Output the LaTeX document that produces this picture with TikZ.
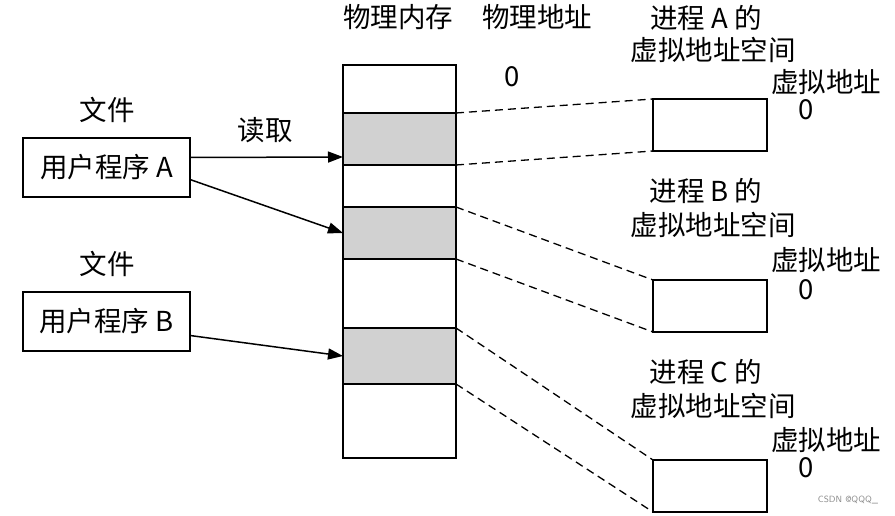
\documentclass[tikz,border=0pt]{standalone}
\usepackage{fontspec}
\newfontfamily\cjk{Noto Sans CJK SC}
\usetikzlibrary{arrows.meta,calc}
\tikzset{
  txt/.style={font=\cjk\fontsize{27.5}{31}\selectfont, inner sep=0pt},
  seg/.style={draw, line width=1.5pt, minimum width=113pt, inner sep=0pt, outer sep=0pt, anchor=north west},
  used/.style={seg, fill=black!18},
  vbox/.style={draw, line width=1.5pt, minimum width=114pt, minimum height=52pt, inner sep=0pt, outer sep=0pt, anchor=north west},
  pbox/.style={draw, line width=1.5pt, minimum width=167pt, minimum height=59pt, inner sep=0pt, outer sep=0pt, anchor=north west, font=\cjk\fontsize{27.5}{31}\selectfont},
  link/.style={dashed, dash pattern=on 8pt off 5pt, line width=1.3pt},
  readarrow/.style={line width=1.5pt, -{Triangle[length=15pt,width=11pt]}}
}
\begin{document}
\begin{tikzpicture}[x=1pt,y=-1pt]
\useasboundingbox (0,0) rectangle (895,516);
% memory column
\node[seg, minimum height=48pt] (m0) at (343,65) {};
\node[used, minimum height=52pt] (m1) at (343,113) {};
\node[seg, minimum height=42pt] (m2) at (343,165) {};
\node[used, minimum height=52pt] (m3) at (343,207) {};
\node[seg, minimum height=69pt] (m4) at (343,259) {};
\node[used, minimum height=56pt] (m5) at (343,328) {};
\node[seg, minimum height=74pt] (m6) at (343,384) {};
% headings
\node[txt] (hmem) at (398,17) {物理内存};
\node[txt] (hpa) at (537,17) {物理地址};
\node[txt] (pa0) at (512,77) {0};
% programs
\node[txt] (fa) at (107,110) {文件};
\node[pbox] (pA) at (23,138) {用户程序 A};
\node[txt] (rd) at (265,130) {读取};
\node[txt] (fb) at (107,264) {文件};
\node[pbox] (pB) at (23,292) {用户程序 B};
% virtual spaces
\node[vbox] (vA) at (653,99) {};
\node[vbox] (vB) at (653,280) {};
\node[vbox] (vC) at (653,460) {};
\node[txt] (tA1) at (706,18) {进程 A 的};
\node[txt] (tA2) at (713,50) {虚拟地址空间};
\node[txt] (tA3) at (826,82) {虚拟地址};
\node[txt] (tA4) at (806,110) {0};
\node[txt] (tB1) at (706,191) {进程 B 的};
\node[txt] (tB2) at (713,225) {虚拟地址空间};
\node[txt] (tB3) at (826,260) {虚拟地址};
\node[txt] (tB4) at (806,290) {0};
\node[txt] (tC1) at (706,372) {进程 C 的};
\node[txt] (tC2) at (713,406) {虚拟地址空间};
\node[txt] (tC3) at (826,440) {虚拟地址};
\node[txt] (tC4) at (806,468) {0};
\node[font=\sffamily\fontsize{9}{10}\selectfont, text=black!45, inner sep=0pt] (wm) at (848,500) {CSDN @QQQ\_};
% dashed mappings
\draw[link] (m1.north east) -- (vA.north west);
\draw[link] (m1.south east) -- (vA.south west);
\draw[link] (m3.north east) -- (vB.north west);
\draw[link] (m3.south east) -- (vB.south west);
\draw[link] (m5.north east) -- (vC.north west);
\draw[link] (m5.south east) -- (vC.south west);
% arrows
\draw[readarrow] ([yshift=10pt]pA.east) -- ([yshift=-18pt]m1.west);
\draw[readarrow] ([yshift=-12pt]pA.east) -- (m3.west);
\draw[readarrow] ([yshift=-14pt]pB.east) -- (m5.west);
\end{tikzpicture}
\end{document}
